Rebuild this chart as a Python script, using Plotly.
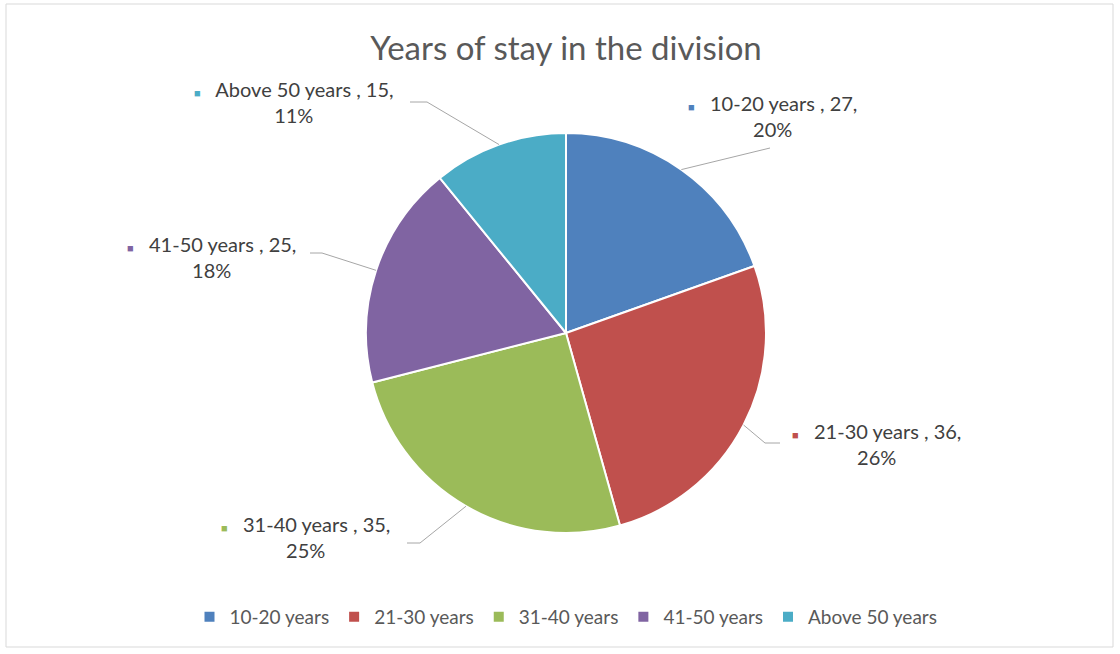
import math
import plotly.graph_objects as go

# ---- data ----
categories = ["10-20 years", "21-30 years", "31-40 years", "41-50 years", "Above 50 years"]
values = [27, 36, 35, 25, 15]
percent_labels = ["20%", "26%", "25%", "18%", "11%"]
colors = ["#4F81BD", "#C0504D", "#9BBB59", "#8064A2", "#4BACC6"]
title_text = "Years of stay in the division"

# ---- layout (pixels) ----
W, H = 1120, 654
CX, CY, R = 566, 333, 200
FONT = "Lato, Carlito, sans-serif"
# label block centres, leader elbows and ends (pixels)
label_pos = [(772, 116), (876, 444), (306, 537), (211, 257), (294, 102)]
elbow_pos = [(770, 148), (765, 443), (420, 543), (322, 253), (427, 102)]
end_pos = [(770, 148), (780, 443), (407, 543), (310, 253), (410, 102)]

def px(x):
    return x / W

def py(y):
    return 1 - y / H

fig = go.Figure()
fig.add_trace(go.Pie(
    labels=categories,
    values=values,
    sort=False,
    direction="clockwise",
    rotation=0,
    textinfo="none",
    hoverinfo="label+value+percent",
    marker=dict(colors=colors, line=dict(color="white", width=2)),
    domain=dict(x=[px(CX - R), px(CX + R)], y=[py(CY + R), py(CY - R)]),
))

total = sum(values)
shapes = [dict(type="rect", xref="paper", yref="paper",
               x0=px(6), x1=px(1113), y0=py(647), y1=py(4),
               line=dict(color="#D9D9D9", width=1), fillcolor="rgba(0,0,0,0)")]
annotations = []
cum = 0
for i, (cat, v) in enumerate(zip(categories, values)):
    mid = (cum + v / 2) / total * 2 * math.pi
    cum += v
    sx = CX + R * math.sin(mid)
    sy = CY - R * math.cos(mid)
    ex, ey = elbow_pos[i]
    fx, fy = end_pos[i]
    path = f"M {px(sx)},{py(sy)} L {px(ex)},{py(ey)} L {px(fx)},{py(fy)}"
    shapes.append(dict(type="path", xref="paper", yref="paper", path=path,
                       line=dict(color="#A6A6A6", width=1)))
    lx, ly = label_pos[i]
    txt = (f"<span style='color:{colors[i]};font-size:11px'>■</span>&nbsp;&nbsp;&nbsp;"
           f"{cat} , {v},<br>{percent_labels[i]}")
    annotations.append(dict(x=px(lx), y=py(ly), xref="paper", yref="paper",
                            text=txt, showarrow=False, align="center",
                            xanchor="center", yanchor="middle",
                            font=dict(family=FONT, size=20, color="#404040")))

fig.update_layout(
    width=W, height=H,
    margin=dict(l=0, r=0, t=0, b=0),
    paper_bgcolor="white",
    plot_bgcolor="white",
    title=dict(text=title_text, x=px(CX), xanchor="center", y=py(48), yanchor="middle",
               font=dict(family=FONT, size=33, color="#595959")),
    showlegend=True,
    legend=dict(orientation="h", x=px(CX), xanchor="center", y=py(617), yanchor="middle",
                font=dict(family=FONT, size=19, color="#595959"),
                itemwidth=30, traceorder="normal"),
    shapes=shapes,
    annotations=annotations,
)

fig.write_html("out.html")
